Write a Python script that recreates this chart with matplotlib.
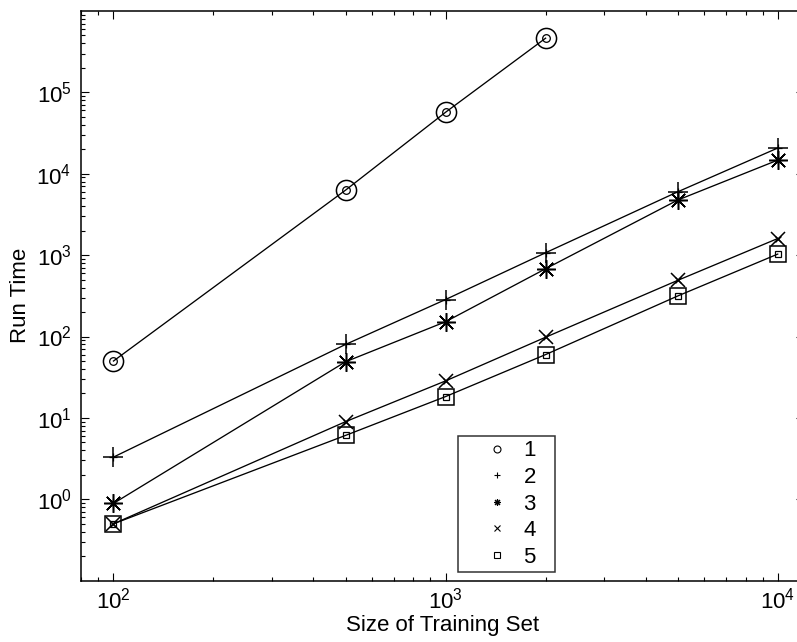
import matplotlib
matplotlib.use('Agg')
import matplotlib.pyplot as plt
from matplotlib.lines import Line2D

plt.rcParams['font.family'] = ['Liberation Sans', 'DejaVu Sans']
plt.rcParams['mathtext.default'] = 'regular'

# training set sizes
sizes1 = [100, 500, 1000, 2000]
sizes = [100, 500, 1000, 2000, 5000, 10000]

# run times
run1 = [50, 6300, 57000, 463000]
run2 = [3.3, 80, 285, 1070, 6000, 20700]
run3 = [0.89, 49, 152, 680, 4750, 14700]
run4 = [0.5, 9.0, 28.5, 98, 490, 1600]
run5 = [0.5, 6.1, 18.3, 60, 315, 1030]

labels = ['1', '2', '3', '4', '5']
yticks = [1e0, 1e1, 1e2, 1e3, 1e4, 1e5]

fs = 16
fig = plt.figure(figsize=(7.97, 6.42), dpi=100)
ax = fig.add_axes([0.1020, 0.0955, 0.9068, 0.8874])

star = (8, 2, 0)
series = [
    (sizes1, run1, 'o', 5.5, 14.5),
    (sizes, run2, '+', 5.5, 14.5),
    (sizes, run3, star, 5.5, 13.5),
    (sizes, run4, 'x', 5.0, 10.5),
    (sizes, run5, 's', 5.0, 11.5),
]

for xs, ys, m, small, big in series:
    ax.plot(xs, ys, color='black', lw=0.95, marker=m, ms=small,
            mfc='none', mec='black', mew=0.9)
    ax.plot(xs, ys, ls='none', marker=m, ms=big,
            mfc='none', mec='black', mew=1.1)

ax.set_xscale('log')
ax.set_yscale('log')
ax.set_xlim(80, 12000)
ax.set_ylim(0.1, 1e6)
ax.set_yticks(yticks)

ax.set_xlabel('Size of Training Set', fontsize=fs, labelpad=1)
ax.set_ylabel('Run Time', fontsize=fs, labelpad=4)

ax.tick_params(which='both', direction='in', top=True, right=True,
               labelsize=fs, width=0.8)
ax.tick_params(which='major', length=6)
ax.tick_params(which='minor', length=3)
ax.tick_params(axis='x', which='major', pad=5)
ax.tick_params(axis='y', which='major', pad=7)
for s in ax.spines.values():
    s.set_linewidth(1.1)

handles = [Line2D([], [], ls='none', marker=s[2], ms=5, mfc='none',
                  mec='black', mew=0.8) for s in series]
leg = ax.legend(handles, labels, loc='upper left',
                bbox_to_anchor=(458 / 797, 1 - 569 / 642, 97 / 797, 133 / 642),
                bbox_transform=fig.transFigure, mode='expand',
                borderaxespad=0, fontsize=fs, frameon=True, fancybox=False,
                borderpad=0.2, handlelength=3.1, handletextpad=-0.35,
                labelspacing=0.25)
leg.get_frame().set_edgecolor('black')
leg.get_frame().set_linewidth(1.1)

fig.savefig('out.png', dpi=100)
